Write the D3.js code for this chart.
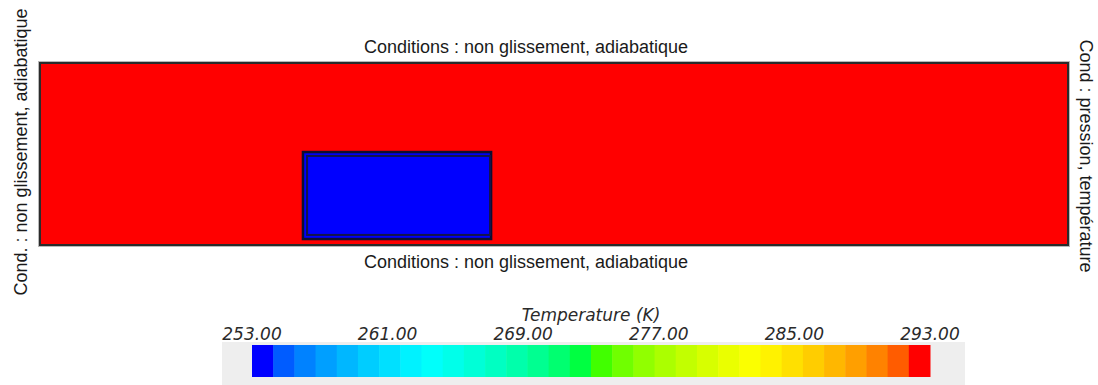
<!DOCTYPE html>
<html><head><meta charset="utf-8">
<script src="https://cdn.jsdelivr.net/npm/d3@7"></script>
<style>
html,body{margin:0;padding:0;background:#fff;}
svg{display:block;}
</style></head>
<body>
<script>
// ---- data ----
const domainSize = [5.0, 0.885];              // channel length, height (m)
const regionNames = ["canal", "obstacle"];
const regionX = [[0, 5.0], [1.279, 2.194]];
const regionY = [[0, 0.885], [0.029, 0.452]];
const regionTemp = [293, 253];                // K
const obstacleInnerX = [1.299, 2.189];
const obstacleInnerY = [0.049, 0.433];
const tempRange = [253, 293];
const tickValues = [253, 261, 269, 277, 285, 293];
const tickLabels = ["253.00", "261.00", "269.00", "277.00", "285.00", "293.00"];
const colorStops = [253, 263, 273, 283, 293];
const colorStopColors = ["#0000ff", "#00ffff", "#00ff00", "#ffff00", "#ff0000"];
const nSwatches = 32;
const labelTop = "Conditions : non glissement, adiabatique";
const labelBottom = "Conditions : non glissement, adiabatique";
const labelLeft = "Cond. : non glissement, adiabatique";
const labelRight = "Cond : pression, température";
const legendTitle = "Temperature (K)";

// ---- drawing ----
const W = 1098, H = 385;
const svg = d3.select("body").append("svg").attr("width", W).attr("height", H);

const x = d3.scaleLinear().domain([0, domainSize[0]]).range([40, 1068]);
const y = d3.scaleLinear().domain([0, domainSize[1]]).range([245, 63]);
const color = d3.scaleLinear().domain(colorStops).range(colorStopColors)
  .interpolate(d3.interpolateRgb.gamma(2));

// field regions
const g = svg.append("g");
regionNames.forEach((name, i) => {
  g.append("rect")
    .attr("x", x(regionX[i][0])).attr("y", y(regionY[i][1]))
    .attr("width", x(regionX[i][1]) - x(regionX[i][0]))
    .attr("height", y(regionY[i][0]) - y(regionY[i][1]))
    .attr("fill", color(regionTemp[i]));
});
// channel border
g.append("rect")
  .attr("x", x(0) - 1.5).attr("y", y(domainSize[1]) - 1.5)
  .attr("width", x(domainSize[0]) - x(0) + 3).attr("height", y(0) - y(domainSize[1]) + 3)
  .attr("fill", "none").attr("stroke", "#b8b8b8").attr("stroke-width", 1);
g.append("rect")
  .attr("x", x(0)).attr("y", y(domainSize[1]))
  .attr("width", x(domainSize[0]) - x(0)).attr("height", y(0) - y(domainSize[1]))
  .attr("fill", "none").attr("stroke", "#2b2b2b").attr("stroke-width", 2);
// obstacle outlines
g.append("rect")
  .attr("x", x(regionX[1][0])).attr("y", y(regionY[1][1]))
  .attr("width", x(regionX[1][1]) - x(regionX[1][0]))
  .attr("height", y(regionY[1][0]) - y(regionY[1][1]))
  .attr("fill", "none").attr("stroke", "#0e0e30").attr("stroke-width", 2.5);
g.append("rect")
  .attr("x", x(obstacleInnerX[0])).attr("y", y(obstacleInnerY[1]))
  .attr("width", x(obstacleInnerX[1]) - x(obstacleInnerX[0]))
  .attr("height", y(obstacleInnerY[0]) - y(obstacleInnerY[1]))
  .attr("fill", "none").attr("stroke", "#14144a").attr("stroke-width", 2);

// boundary labels
const font = "'Liberation Sans', Arial, sans-serif";
svg.append("text").attr("x", 526).attr("y", 53).attr("text-anchor", "middle")
  .attr("font-family", font).attr("font-size", 18).attr("fill", "#1a1a1a").text(labelTop);
svg.append("text").attr("x", 526).attr("y", 268).attr("text-anchor", "middle")
  .attr("font-family", font).attr("font-size", 18).attr("fill", "#1a1a1a").text(labelBottom);
svg.append("text").attr("transform", "translate(27,152) rotate(-90)").attr("text-anchor", "middle")
  .attr("font-family", font).attr("font-size", 18).attr("fill", "#1a1a1a").text(labelLeft);
svg.append("text").attr("transform", "translate(1080,156) rotate(90)").attr("text-anchor", "middle")
  .attr("font-family", font).attr("font-size", 18).attr("fill", "#1a1a1a").text(labelRight);

// colorbar
const cb = d3.scaleLinear().domain(tempRange).range([252, 930]);
svg.append("rect").attr("x", 222).attr("y", 342).attr("width", 743).attr("height", 43).attr("fill", "#eeeeee");
const step = (tempRange[1] - tempRange[0]) / nSwatches;
const swatches = d3.range(nSwatches);
svg.append("g").selectAll("rect").data(swatches).join("rect")
  .attr("x", i => cb(tempRange[0] + i * step))
  .attr("y", 345)
  .attr("width", i => cb(tempRange[0] + (i + 1) * step) - cb(tempRange[0] + i * step) + 0.5)
  .attr("height", 32)
  .attr("fill", i => color(tempRange[0] + (tempRange[1] - tempRange[0]) * i / (nSwatches - 1)));
const lfont = "'DejaVu Sans', sans-serif";
svg.append("g").selectAll("text").data(tickValues).join("text")
  .attr("x", d => cb(d)).attr("y", 340).attr("text-anchor", "middle")
  .attr("font-family", lfont).attr("font-style", "italic").attr("font-size", 17)
  .attr("fill", "#2a2a2a").text((d, i) => tickLabels[i]);
svg.append("text").attr("x", (cb.range()[0] + cb.range()[1]) / 2).attr("y", 321).attr("text-anchor", "middle")
  .attr("font-family", lfont).attr("font-style", "italic").attr("font-size", 17)
  .attr("fill", "#2a2a2a").text(legendTitle);
</script>
</body></html>
